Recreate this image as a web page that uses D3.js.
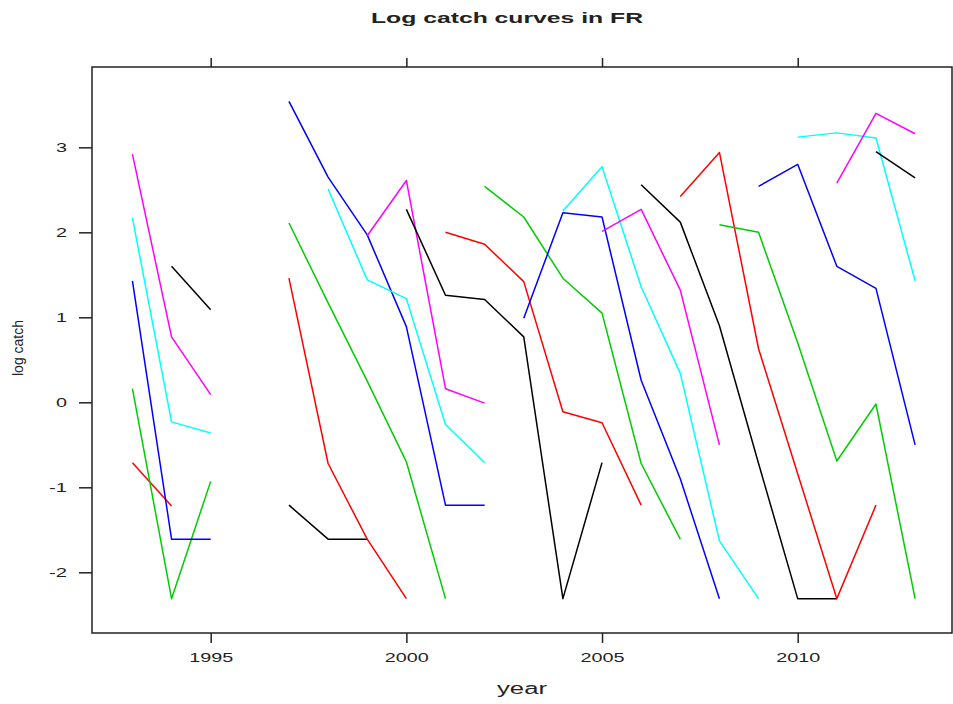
<!DOCTYPE html>
<html>
<head>
<meta charset="utf-8">
<script src="https://cdn.jsdelivr.net/npm/d3@7"></script>
<style>
  html, body { margin: 0; padding: 0; background: #fff; }
  svg { display: block; }
  text { font-family: "Liberation Sans", Arial, sans-serif; fill: #222; }
</style>
</head>
<body>
<svg id="chart" width="953" height="704"></svg>
<script>
// ---- data (cohort log-catch segments) ----
const seriesColors = [
  "black", "red", "green", "blue", "cyan", "magenta",
  "black", "red", "green", "blue", "cyan", "magenta",
  "black", "red", "green", "blue", "cyan", "magenta",
  "black", "red", "green", "blue", "cyan", "magenta",
  "black"
];
const seriesStartYear = [
  1994, 1993, 1993, 1993, 1993, 1993,
  1997, 1997, 1997, 1997, 1998, 1999,
  2000, 2001, 2002, 2003, 2004, 2005,
  2006, 2007, 2008, 2009, 2010, 2011,
  2012
];
const seriesValues = [
  [1.60, 1.09],
  [-0.71, -1.22],
  [0.16, -2.31, -0.93],
  [1.43, -1.61, -1.61],
  [2.17, -0.23, -0.36],
  [2.92, 0.77, 0.09],
  [-1.21, -1.61, -1.61],
  [1.46, -0.72, -1.61, -2.31],
  [2.11, 1.17, 0.25, -0.70, -2.31],
  [3.54, 2.65, 1.97, 0.89, -1.21, -1.21],
  [2.51, 1.44, 1.22, -0.26, -0.71],
  [1.96, 2.61, 0.16, -0.01],
  [2.27, 1.26, 1.21, 0.77, -2.31, -0.71],
  [2.00, 1.86, 1.42, -0.11, -0.24, -1.21],
  [2.54, 2.18, 1.46, 1.05, -0.72, -1.61],
  [0.99, 2.23, 2.18, 0.26, -0.90, -2.31],
  [2.25, 2.77, 1.36, 0.34, -1.63, -2.31],
  [2.01, 2.27, 1.32, -0.50],
  [2.56, 2.12, 0.90, -0.72, -2.31, -2.31],
  [2.42, 2.94, 0.63, -0.84, -2.31, -1.21],
  [2.09, 2.00, 0.70, -0.69, -0.02, -2.31],
  [2.54, 2.80, 1.60, 1.34, -0.50],
  [3.12, 3.17, 3.11, 1.43],
  [2.58, 3.40, 3.16],
  [2.95, 2.64]
];
const xTicks = [1995, 2000, 2005, 2010];
const yTicks = [-2, -1, 0, 1, 2, 3];
const titleText = "Log catch curves in FR";
const xLabel = "year";
const yLabel = "log catch";

// ---- palette ----
const colorMap = {
  black: "#000000", red: "#FF0000", green: "#00CD00",
  blue: "#0000FF", cyan: "#00FFFF", magenta: "#FF00FF"
};

// ---- layout ----
const L = 92, R = 952, T = 67, B = 633;
const svg = d3.select("#chart");

const x = d3.scaleLinear().domain([1991.967, 2013.943]).range([L, R]);
const y = d3.scaleLinear().domain([-2.714, 3.945]).range([B, T]);

svg.append("clipPath").attr("id", "clip")
  .append("rect").attr("x", L).attr("y", T).attr("width", R - L).attr("height", B - T);

const line = d3.line().x(d => x(d.year)).y(d => y(d.v));

const series = seriesValues.map((vals, i) => ({
  color: colorMap[seriesColors[i]],
  pts: vals.map((v, j) => ({ year: seriesStartYear[i] + j, v }))
}));

svg.append("g").attr("clip-path", "url(#clip)")
  .selectAll("path").data(series).enter().append("path")
  .attr("d", d => line(d.pts))
  .attr("fill", "none")
  .attr("stroke", d => d.color)
  .attr("stroke-width", 1.5)
  .attr("stroke-linejoin", "round");

const axisColor = "#222";
// bottom
const gB = svg.append("g").attr("transform", `translate(0,${B})`)
  .call(d3.axisBottom(x).tickValues(xTicks).tickSize(10).tickPadding(10).tickFormat(d => String(d)));
gB.select(".domain").remove();
gB.selectAll("line").attr("stroke", axisColor).attr("stroke-width", 1.5);
gB.selectAll("text").attr("font-size", 13).attr("fill", "#222")
  .attr("textLength", 44).attr("lengthAdjust", "spacingAndGlyphs");

// top
const gT = svg.append("g").attr("transform", `translate(0,${T})`)
  .call(d3.axisTop(x).tickValues(xTicks).tickSize(9).tickFormat(""));
gT.select(".domain").remove();
gT.selectAll("line").attr("stroke", axisColor).attr("stroke-width", 1.5);

// left
const gL = svg.append("g").attr("transform", `translate(${L},0)`)
  .call(d3.axisLeft(y).tickValues(yTicks).tickSize(13).tickPadding(12).tickFormat(d => String(d)));
gL.select(".domain").remove();
gL.selectAll("line").attr("stroke", axisColor).attr("stroke-width", 1.5);
gL.selectAll("text").attr("font-size", 13).attr("fill", "#222")
  .attr("textLength", d => d < 0 ? 18 : 11).attr("lengthAdjust", "spacingAndGlyphs");

// frame
svg.append("rect").attr("x", L).attr("y", T).attr("width", R - L).attr("height", B - T)
  .attr("fill", "none").attr("stroke", axisColor).attr("stroke-width", 1.5);

// title
svg.append("text").attr("x", 507).attr("y", 23).attr("text-anchor", "middle")
  .attr("font-size", 15).attr("font-weight", "bold")
  .attr("textLength", 272).attr("lengthAdjust", "spacingAndGlyphs")
  .text(titleText);

// x label
svg.append("text").attr("x", 522).attr("y", 694).attr("text-anchor", "middle")
  .attr("font-size", 16).attr("textLength", 50).attr("lengthAdjust", "spacingAndGlyphs")
  .text(xLabel);

// y label
svg.append("text").attr("transform", "translate(23,348) rotate(-90)")
  .attr("text-anchor", "middle").attr("font-size", 14)
  .text(yLabel);
</script>
</body>
</html>
